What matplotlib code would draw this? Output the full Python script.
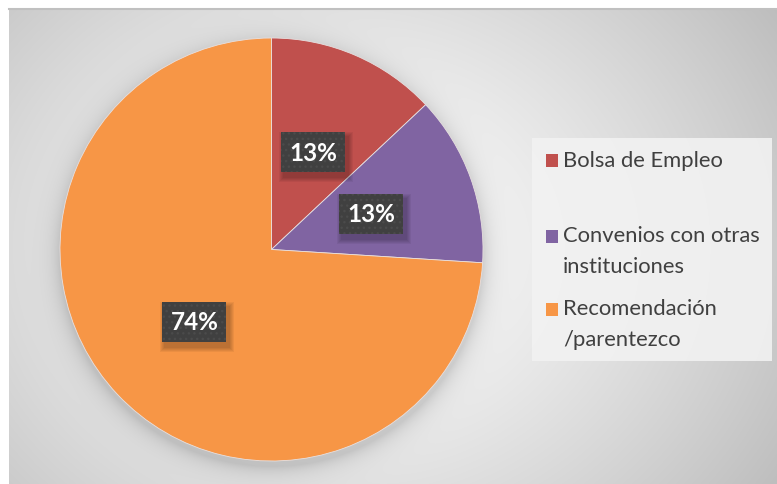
import numpy as np
import matplotlib.pyplot as plt
from matplotlib.patches import Rectangle

plt.rcParams['font.family'] = ['Lato', 'DejaVu Sans']

# data
categorias = ["Bolsa de Empleo", "Convenios con otras\ninstituciones", "Recomendación\n/parentezco"]
porcentajes = [13, 13, 74]
colores = ["#C0504D", "#8064A2", "#F79646"]

W, H = 777, 485
fig = plt.figure(figsize=(W / 100, H / 100), dpi=100)
fig.patch.set_facecolor("white")

# background panel with a soft radial gradient and the pie's drop shadow
bg = fig.add_axes([0, 0, 1, 1])
bg.set_xlim(0, W)
bg.set_ylim(H, 0)
bg.axis("off")

x0, y0 = 9, 9
xx, yy = np.meshgrid(np.arange(x0, W) + 0.5, np.arange(y0, H) + 0.5)
r = np.sqrt(((xx - 340) / 500) ** 2 + ((yy - 250) / 420) ** 2)
val = 255 - 62 * np.clip(r, 0, 1.2) ** 1.3
d = np.sqrt((xx - 272) ** 2 + (yy - 256) ** 2) - 211.5
val = val - 34 * np.exp(-np.clip(d, 0, None) / 10)
val = np.clip(val, 0, 255) / 255
img = np.dstack([val, val, val])
bg.imshow(img, extent=(x0, W, H, y0), interpolation="bilinear", zorder=0)
bg.plot([x0, W], [y0 + 0.5, y0 + 0.5], color="#c0c0c0", lw=1.5, zorder=1)

# legend panel
bg.add_patch(Rectangle((532, 139), 240, 223, facecolor="#f2f2f2", edgecolor="none", alpha=0.9, zorder=2))
marker_y = [155, 231, 304]
text_y = [151, 226, 299]
for cat, col, my, ty in zip(categorias, colores, marker_y, text_y):
    bg.add_patch(Rectangle((546, my), 12.5, 12.5, facecolor=col, edgecolor="none", zorder=3))
    bg.text(563, ty, cat, fontsize=15.8, color="#404040", va="top", ha="left",
            linespacing=1.66, zorder=3)

# pie
cx, cy, R = 271.5, 250.5, 211.5
ax = fig.add_axes([(cx - R) / W, (H - cy - R) / H, 2 * R / W, 2 * R / H])
wedges, texts, autotexts = ax.pie(
    porcentajes, colors=colores, startangle=90, counterclock=False,
    autopct=lambda p: "%d%%" % round(p), pctdistance=0.5,
    wedgeprops=dict(linewidth=0.6, edgecolor="#e8e0e0"),
    textprops=dict(color="white", fontsize=17.5, fontweight="bold"))
ax.set_xlim(-1, 1)
ax.set_ylim(-1, 1)
ax.set_aspect("auto")
ax.axis("off")

# dark label boxes (64 x 40 px) behind the percentages, with a soft shadow
px = 2 / (2 * R)
bw, bh = 64 * px, 40 * px
for t in autotexts:
    t.set_zorder(6)
    x, y = t.get_position()
    sx, sy = x + 3 * px, y - 5 * px
    for k in range(5):
        g = (5 - k) * px
        ax.add_patch(Rectangle((sx - bw / 2 - g, sy - bh / 2 - g), bw + 2 * g, bh + 2 * g,
                               facecolor="black", edgecolor="none", alpha=0.05,
                               zorder=4, clip_on=False))
    ax.add_patch(Rectangle((x - bw / 2, y - bh / 2), bw, bh, facecolor="#404040", edgecolor="#4b4b4b",
                           linewidth=0, hatch="...", zorder=5, clip_on=False))

fig.savefig("out.png", dpi=100)
